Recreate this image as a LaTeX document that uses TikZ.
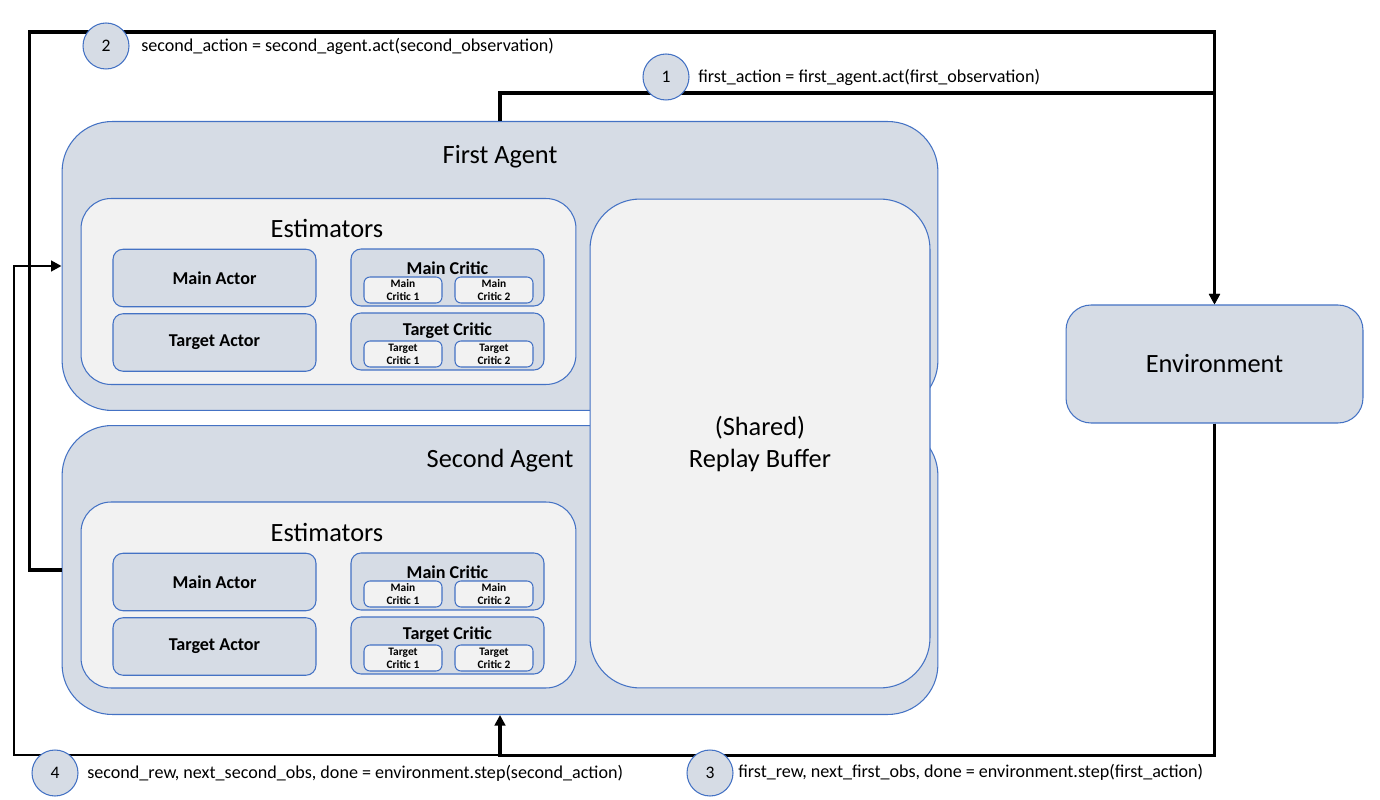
\documentclass[tikz,border=0pt]{standalone}
\usepackage{fontspec}
\setmainfont{Carlito}
\usetikzlibrary{arrows.meta}
\definecolor{boxBlue}{HTML}{4472C4}
\definecolor{boxFill}{HTML}{D6DCE5}
\definecolor{paneFill}{HTML}{F2F2F2}

\begin{document}
\begin{tikzpicture}[
  x=0.02cm, y=-0.02cm,
  every node/.style={inner sep=0pt, align=center},
  agent/.style={
    fill=boxFill,
    draw=boxBlue,
    line width=0.6pt,
    rounded corners=1cm,
    minimum width=17.52cm,
    minimum height=5.78cm
  },
  pane/.style={
    fill=paneFill,
    draw=boxBlue,
    line width=0.6pt,
    rounded corners=0.6cm,
    minimum width=9.9cm,
    minimum height=3.72cm
  },
  net/.style={
    fill=boxFill,
    draw=boxBlue,
    line width=0.6pt,
    rounded corners=0.2cm,
    minimum width=4.06cm,
    minimum height=1.15cm,
    font=\fontsize{10.3}{12}\selectfont\bfseries
  },
  critic/.style={net, minimum width=3.86cm, minimum height=1.14cm},
  twin/.style={
    fill=paneFill,
    draw=boxBlue,
    line width=0.6pt,
    rounded corners=0.12cm,
    minimum width=1.56cm,
    minimum height=0.52cm,
    font=\fontsize{6.5}{7.4}\selectfont\bfseries
  },
  title/.style={font=\fontsize{15}{18}\selectfont},
  subtitle/.style={font=\fontsize{10.3}{12}\selectfont\bfseries},
  stepnum/.style={
    circle,
    fill=boxFill,
    draw=boxBlue,
    line width=0.6pt,
    minimum size=0.92cm,
    font=\fontsize{10}{12}\selectfont
  },
  call/.style={anchor=west, font=\fontsize{10.3}{12}\selectfont},
  flow/.style={draw, line width=1.9pt, -{Triangle[length=6pt,width=6pt]}},
  backflow/.style={flow, line width=1.5pt}
]

\fill[white] (0,0) rectangle (1380,800);
\useasboundingbox (0,0) rectangle (1380,800);

\node[agent] (fa) at (500,266) {};
\node[title] at (500,157) {First Agent};
\node[pane] (fest) at (328.5,291.5) {};
\node[title] at (327,228) {Estimators};
\node[net] (fmactor) at (214.5,278) {Main Actor};
\node[net] (ftactor) at (214.5,342.5) {Target Actor};
\node[critic] (fmcritic) at (447.5,277.5) {};
\node[subtitle] at (447.5,268) {Main Critic};
\node[twin] (fmc1) at (403,290) {Main\\Critic 1};
\node[twin] (fmc2) at (494,290) {Main\\Critic 2};
\node[critic] (ftcritic) at (447.5,341.5) {};
\node[subtitle] at (447.5,331) {Target Critic};
\node[twin] (ftc1) at (403,354) {Target\\Critic 1};
\node[twin] (ftc2) at (494,354) {Target\\Critic 2};

\node[agent] (sa) at (500,570) {};
\node[title] at (500,461) {Second Agent};
\node[pane] (sest) at (328.5,595) {};
\node[title] at (327,532) {Estimators};
\node[net] (smactor) at (214.5,582) {Main Actor};
\node[net] (stactor) at (214.5,646.5) {Target Actor};
\node[critic] (smcritic) at (447.5,581.5) {};
\node[subtitle] at (447.5,572) {Main Critic};
\node[twin] (smc1) at (403,594) {Main\\Critic 1};
\node[twin] (smc2) at (494,594) {Main\\Critic 2};
\node[critic] (stcritic) at (447.5,645.5) {};
\node[subtitle] at (447.5,635) {Target Critic};
\node[twin] (stc1) at (403,658) {Target\\Critic 1};
\node[twin] (stc2) at (494,658) {Target\\Critic 2};

\node[agent, fill=paneFill, minimum width=6.8cm, minimum height=9.78cm, font=\fontsize{15}{18.2}\selectfont]
  (buffer) at (760,443.5) {(Shared)\\Replay Buffer};

\node[net, rounded corners=0.5cm, minimum width=5.94cm, minimum height=2.36cm, font=\fontsize{15}{18}\selectfont]
  (env) at (1214.5,364) {Environment};

\coordinate (top) at (1214.5,32);
\coordinate (corner) at (14,755);

\draw[flow] (fa.north) -- ++(0,-28) -| (env.north);
\draw[flow] (sa.west) -- ++(-32,0) |- (top) -- (env.north);
\draw[flow] (env.south) -- ++(0,332) -| (sa.south);
\draw[backflow] (env.south) |- (corner) |- (fa.west);

\node[stepnum] (n2) at (106,46) {2};
\node[call] at (141,46) {second\_action = second\_agent.act(second\_observation)};
\node[stepnum] (n1) at (666,77) {1};
\node[call] at (698,77) {first\_action = first\_agent.act(first\_observation)};
\node[stepnum] (n4) at (55,773) {4};
\node[call] at (87,773) {second\_rew, next\_second\_obs, done = environment.step(second\_action)};
\node[stepnum] (n3) at (710,773) {3};
\node[call] at (738,772) {first\_rew, next\_first\_obs, done = environment.step(first\_action)};

\end{tikzpicture}
\end{document}
